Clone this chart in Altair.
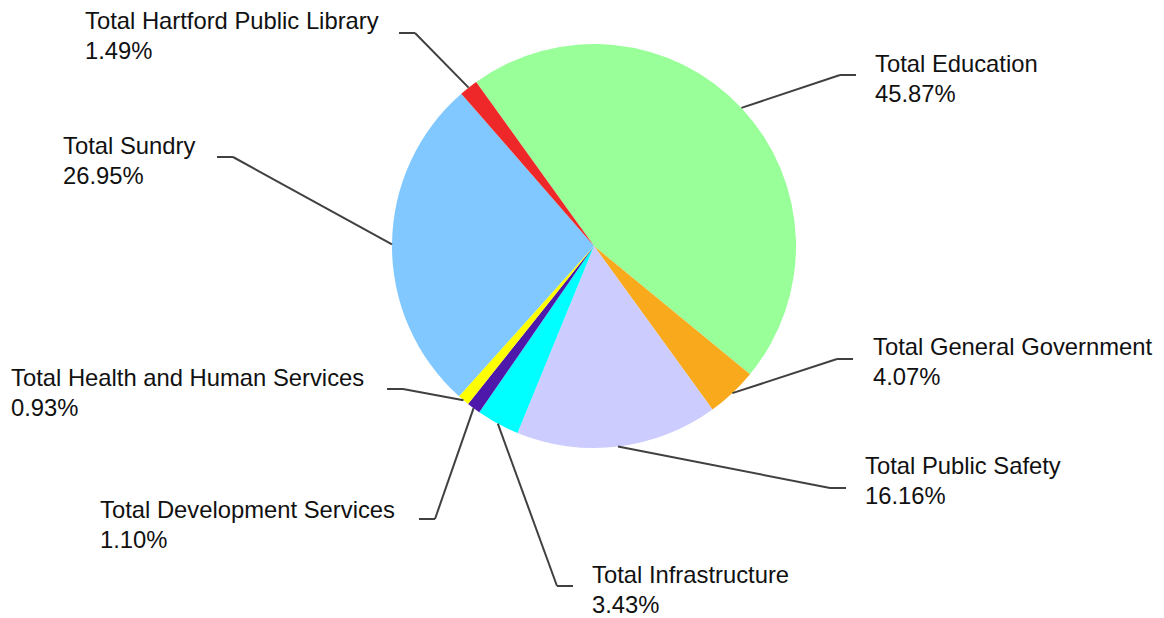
import math
import altair as alt
import pandas as pd

# ---- data ----
categories = [
    "Total Education",
    "Total General Government",
    "Total Public Safety",
    "Total Infrastructure",
    "Total Development Services",
    "Total Health and Human Services",
    "Total Sundry",
    "Total Hartford Public Library",
]
values = [45.87, 4.07, 16.16, 3.43, 1.10, 0.93, 26.95, 1.49]
colors = ["#99FF99", "#F9AA1C", "#CCCCFF", "#00FFFF", "#4E18AA", "#FFFF00", "#80C8FF", "#EE2828"]

# ---- label layout (offsets from the pie centre, in px) ----
elbow_dx = [246, 243, 236, -37, -159, -191, -361, -179]
elbow_dy = [-171, 113, 242, 340, 273, 143, -89, -213]
side = [1, 1, 1, 1, -1, -1, -1, -1]
label_dx = [281, 279, 271, -2, -494, -583, -531, -509]
label_dy = [-174, 109, 228, 337, 272, 140, -92, -217]

W, H = 1148, 608
CX, CY = 586, 238          # pie centre within the view
R = 202                    # pie radius
A0 = math.radians(-35.7)   # start angle of the first slice
SEG = 16                   # horizontal leader segment
FONT = "Liberation Sans"
FS = 23.8

df = pd.DataFrame({
    "category": categories,
    "value": values,
    "order": list(range(len(categories))),
    "edx": elbow_dx,
    "edy": elbow_dy,
    "side": side,
    "ldx": label_dx,
    "ldy": label_dy,
})

pie = alt.Chart(df).mark_arc(outerRadius=R, stroke=None).encode(
    theta=alt.Theta("value:Q", stack=True,
                    scale=alt.Scale(range=[A0, A0 + 2 * math.pi])),
    color=alt.Color("category:N",
                    scale=alt.Scale(domain=categories, range=colors),
                    legend=None),
    order=alt.Order("order:Q"),
    x=alt.value(CX),
    y=alt.value(CY),
)

base = (
    alt.Chart(df)
    .transform_joinaggregate(total="sum(value)")
    .transform_window(cum="sum(value)", sort=[alt.SortField("order")], frame=[None, 0])
    .transform_calculate(mid=f"{A0} + 2*PI*(datum.cum - datum.value/2)/datum.total")
    .transform_calculate(
        sx=f"{CX} + {R}*sin(datum.mid)",
        sy=f"{CY} - {R}*cos(datum.mid)",
        ex=f"{CX} + datum.edx",
        ey=f"{CY} + datum.edy",
        hx=f"{CX} + datum.edx + datum.side*{SEG}",
        tx=f"{CX} + datum.ldx",
        ty=f"{CY} + datum.ldy",
        ty2=f"{CY} + datum.ldy + 30",
        pct="format(datum.value, '.2f') + '%'",
    )
)

line_color = "#404040"
leader1 = base.mark_rule(color=line_color, strokeWidth=2).encode(
    x=alt.X("sx:Q", scale=None), y=alt.Y("sy:Q", scale=None),
    x2="ex:Q", y2="ey:Q",
)
leader2 = base.mark_rule(color=line_color, strokeWidth=2).encode(
    x=alt.X("ex:Q", scale=None), y=alt.Y("ey:Q", scale=None),
    x2="hx:Q", y2="ey:Q",
)
name_text = base.mark_text(align="left", baseline="alphabetic", font=FONT,
                           fontSize=FS, color="#111111").encode(
    x=alt.X("tx:Q", scale=None), y=alt.Y("ty:Q", scale=None), text="category:N",
)
pct_text = base.mark_text(align="left", baseline="alphabetic", font=FONT,
                          fontSize=FS, color="#111111").encode(
    x=alt.X("tx:Q", scale=None), y=alt.Y("ty2:Q", scale=None), text="pct:N",
)

chart = (
    alt.layer(pie, leader1, leader2, name_text, pct_text)
    .properties(width=W, height=H, padding=0,
                autosize=alt.AutoSizeParams(type="none"))
    .configure_view(stroke=None)
)

chart.save("out.html", embed_options={"renderer": "svg", "actions": False})
